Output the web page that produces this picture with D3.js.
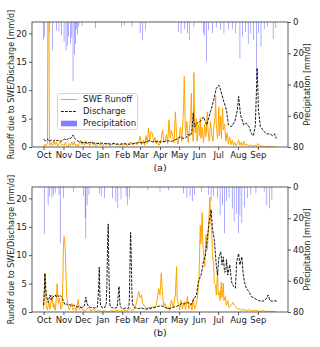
<!DOCTYPE html>
<html>
<head>
<meta charset="utf-8">
<script src="https://cdn.jsdelivr.net/npm/d3@7"></script>
<style>
  html, body { margin: 0; padding: 0; background: #fff; }
  svg text { font-family: "DejaVu Sans", sans-serif; }
</style>
</head>
<body>
<svg id="chart" width="320" height="347"></svg>
<script>
// ---- data (day offsets from 1 October, values in mm/d) ----
const monthLabels = ["Oct","Nov","Dec","Jan","Feb","Mar","Apr","May","Jun","Jul","Aug","Sep"];
const leftTicks = [0, 5, 10, 15, 20];
const rightTicks = [0, 20, 40, 60, 80];
const panelTitles = ["(a)", "(b)"];

const sweRunoffA = [[0,0],[2,0.5],[4,0.2],[6,0.8],[7,40],[8,30],[9,0.5],[10,0.3],[12,0.8],[14,0.2],[16,1.1],[18,0.4],[20,0.9],[22,0.1],[24,0.6],[26,1.0],[28,0.3],[30,0.5],
 [32,0.2],[34,0.8],[36,0.3],[38,0],[40,0.6],[42,0.2],[44,0.9],[46,0.3],[48,1.0],[50,0.2],[52,0.5],[54,0.1],[56,0.7],[58,1.2],[60,0.4],
 [62,0.9],[64,0.3],[66,1.1],[68,0.5],[70,0.8],[72,0.2],[74,0.6],[76,1.0],[78,0.3],[80,0.7],[82,0.2],[84,0.5],[86,0.8],[88,0.3],[90,0.6],
 [92,0.2],[95,0.6],[98,0.3],[101,0.7],[104,0.2],[107,0.5],[110,0.8],[113,0.3],[116,0.6],[119,0.2],[122,0.5],
 [125,0.3],[128,0.7],[131,0.2],[134,0.6],[137,0.9],[140,0.3],[143,0.8],[146,0.4],[149,1.0],
 [151,1.9],[153,0.4],[156,1.2],[158,0.3],[160,2.0],[162,0.6],[164,3.3],[166,1.0],[168,2.7],[170,2.5],[172,0.8],[174,1.7],[176,0.5],[178,1.2],[180,0.3],
 [182,0.5],[184,1.5],[186,3.0],[188,0.8],[190,1.0],[192,2.2],[194,0.6],[196,4.8],[198,1.5],[200,3.0],[202,1.8],[204,0.7],[206,6.2],[208,2.0],[210,0.5],
 [212,1.5],[214,3.5],[216,1.0],[218,5.0],[219,8.0],[220,12.4],[221,6.0],[222,2.0],[224,4.5],[226,0.8],[228,3.0],[230,5.5],[231,9.5],[232,4.0],[234,1.0],[235,13.1],[236,6.0],[237,2.5],[239,5.0],[240,1.0],[242,4.0],
 [244,2.0],[245,5.2],[246,1.5],[248,3.5],[250,0.8],[252,4.0],[254,1.8],[256,6.2],[257,3.0],[259,1.0],[261,4.5],[263,2.0],[265,1.0],[266,3.5],[268,5.0],[269,8.9],[270,4.0],[272,1.5],
 [273,3.0],[274,7.0],[275,2.0],[277,5.5],[278,1.5],[280,6.8],[281,3.0],[283,4.0],[285,1.0],[287,2.5],[289,0.5],[291,1.8],[293,0.4],[295,1.2],[297,0.3],[299,0.8],[301,0.2],[303,0.6],
 [305,1.2],[307,0.3],[309,0.8],[311,0.2],[313,1.0],[315,0.3],[318,0.5],[321,0.1],[324,0.4],[327,0.1],[330,0.3],[333,0.1],
 [335,0.6],[338,0.1],[341,0.2],[345,0],[350,0.1],[355,0],[364,0]];

const dischargeA = [[0,1.3],[3,1.1],[6,1.4],[9,1.0],[12,1.2],[15,1.0],[18,1.3],[21,1.1],[24,1.2],[27,1.0],[30,1.2],
 [33,1.4],[36,1.2],[39,1.6],[42,1.5],[45,1.8],[46,2.1],[48,1.6],[51,1.3],[54,1.0],[57,0.9],[60,0.8],
 [64,0.8],[68,0.7],[72,0.8],[76,0.7],[80,0.7],[85,0.6],[90,0.7],[95,0.6],[100,0.6],[105,0.5],[110,0.6],[115,0.5],[120,0.5],[125,0.6],[130,0.5],[135,0.5],[140,0.6],[145,0.7],[150,0.8],[155,0.7],[160,0.9],[165,1.1],[170,0.9],[175,1.0],[180,0.9],
 [185,0.9],[190,1.0],[195,1.1],[200,1.0],[205,1.2],[210,1.5],[214,1.8],[218,1.5],[222,1.6],[226,2.2],[230,2.0],[232,3.0],[234,6.0],[236,3.5],[240,4.2],[245,4.5],[250,5.3],[255,3.9],[261,6.2],[266,8.3],[270,10.3],[274,10.9],[277,10.0],[281,8.3],[286,6.5],[289,3.9],[294,3.6],[299,4.5],[303,6.5],[305,8.9],[308,5.6],[313,3.9],[317,4.2],[322,3.4],[325,2.3],[328,2.0],[331,3.6],[334,13.9],[336,6.5],[339,3.6],[344,2.8],[349,2.3],[354,2.3],[358,2.0],[361,2.3],[364,1.5]];

const precipA = [[0,11.5],[1,9.4],[9,7],[14,18],[20,5.5],[24,6],[28,8.3],[32,12.6],[35,18],[37,15],[39,9.4],[42,13.7],[44,10],[46,37.8],[48,21],[50,14],[51,5],[53,8],[55,3],[60,2.5],[81,4],[122,3],[126,2],[138,3],[151,7],[155,11.5],[159,5],
 [211,6.2],[215,7.2],[220,4.5],[225,7.2],[228,11.5],[235,3.4],[250,7.2],[252,9],[255,25.4],[258,5.1],[264,7.2],[270,3.4],[277,5],[282,7.2],[289,5],[295,4.5],[300,7.2],[307,23.2],[311,9.4],[316,6.2],[320,13.9],[324,7.2],[328,11.5],[333,37],[336,7],[340,15.8],[345,4.5],[350,3],[359,11],[363,4]];

const sweRunoffB = [[0,0.5],[2,6.8],[4,1.2],[6,0.4],[8,1.8],[10,0.5],[13,3.0],[15,0.8],[16,1.5],[18,0.3],[20,2.5],[21,5.0],[23,1.5],[25,2.4],[27,0.5],[29,1.2],[30,5.0],[31,11.8],[32,13.3],[33,12.5],[34,10.3],[36,3.0],[38,1.2],[40,0.4],[42,0.8],[44,1.5],[46,0.3],[49,0.8],[51,0.2],[54,2.2],[56,0.4],[58,0.9],[60,0.6],[63,0.2],
 [66,0.3],[70,0.8],[74,0.2],[78,0.5],[82,0.1],[86,0.3],[90,0.1],[95,0.2],[100,0],[105,0.2],[110,0.1],[115,0.3],[120,0.1],[125,0.4],[130,0.2],[135,0.6],[138,0.3],
 [142,0.5],[145,1.5],[147,2.8],[149,3.6],[151,2.5],[153,3.0],[155,1.5],[158,1.0],[161,0.5],[164,0.9],[167,0.4],[170,1.0],[173,0.6],[176,1.2],[178,2.4],[180,4.1],[182,3.0],[184,6.9],
 [186,3.0],[188,1.0],[190,1.5],[193,0.5],[195,0.9],[197,0.3],[200,2.1],[203,0.7],[206,3.0],[208,8.0],[209,2.0],[211,1.5],[213,0.4],[215,2.1],[217,0.5],[220,1.8],[222,0.4],[225,2.7],[227,0.5],[230,1.5],[232,0.3],[234,2.4],[236,0.5],[239,1.5],[241,3.0],
 [243,6.0],[245,15.3],[246,12],[248,17.5],[249,12],[250,10.6],[252,8],[254,13.6],[256,11],[258,15],[260,20.2],[261,17],[263,13.6],[264,10],[266,8.3],[267,5],[269,4.8],[270,3],[272,7.1],[273,3],[275,3.6],[276,2],[278,5.3],[279,2.5],[281,5.1],[282,2],[284,2.7],[286,1.2],[288,2.0],[290,0.8],[292,1.0],[294,1.3],[296,1.7],[298,1.2],[300,1.0],[303,0.5],[305,0.6],[309,0.3],[313,0.5],[317,0.2],[321,0.4],[326,0.2],[332,0.3],[337,0.1],[343,0.2],[350,0.1],[357,0.1],[364,0]];

const dischargeB = [[0,1.2],[1,3.5],[2,6.8],[4,3.0],[6,2.2],[7,1.7],[9,2.6],[10,3.0],[12,2.1],[14,2.5],[16,2.8],[18,3.0],[20,2.6],[22,2.9],[24,2.7],[26,2.9],[28,2.6],[30,2.2],[32,1.6],[34,1.2],[36,1.4],[38,1.2],[41,1.3],[44,1.1],[47,1.2],[50,1.0],[53,0.9],[56,0.9],[59,0.8],[62,0.9],[64,1.2],[66,2.6],[68,1.5],[70,1.0],[73,0.8],[76,0.8],[80,0.7],[84,0.8],
 [86,4.0],[87,7.9],[88,3.0],[89,1.2],[91,0.8],[93,0.7],[96,0.8],[98,1.5],[99,5.0],[100,12.0],[101,15.5],[102,8.0],[103,2.5],[104,1.0],[106,0.8],[109,0.7],[112,0.7],[115,0.8],[116,2.0],[117,3.5],[118,4.5],[119,2.0],[120,0.9],[122,0.7],[125,0.6],[128,0.7],[131,0.6],[133,0.7],[134,2.0],[135,8.0],[136,14.0],[137,10.0],[138,3.5],[139,1.5],[141,0.9],[144,0.7],
 [148,0.6],[152,0.7],[156,0.6],[160,0.5],[164,0.6],[168,0.7],[172,0.8],[176,0.9],[180,1.0],[184,1.1],[188,0.9],[192,0.7],[196,0.6],[200,0.7],[204,0.9],[208,1.0],[212,1.2],[216,1.5],[220,1.4],[224,1.7],[228,1.5],[231,1.3],
 [234,2.1],[239,3.0],[242,5.3],[247,6.8],[250,8.9],[253,10.0],[256,13.0],[259,15.9],[262,18.0],[264,14.7],[267,12.7],[270,8.3],[272,6.5],[274,9.5],[277,10.6],[279,8.3],[281,9.7],[283,7.0],[285,7.1],[286,9.2],[288,6.5],[291,8.3],[294,5.3],[297,4.5],[300,4.2],[302,8.9],[305,10.3],[307,8.3],[310,9.7],[312,6.8],[314,5.3],[317,4.2],[321,3.6],[325,2.7],[330,2.4],[336,2.0],[343,1.9],[349,2.4],[351,3.0],[354,2.0],[358,1.9],[363,2.0],[364,1.7]];

const precipB = [[1,30],[7,11.5],[9,6],[13,7],[15,5],[18,4],[24,5],[26,36],[31,7],[47,3],[62,6],[65,20],[66,33],[68,11.5],[71,5],
 [87,4],[90,6],[95,7],[108,7],[113,9.3],[116,13.7],[121,8],[129,6],[131,11.5],[134,7],[163,2],
 [182,3],[195,2],[219,4],[224,7],[229,6],[233,9],[236,5],[247,3],[258,5],[262,9],[266,6],[272,7],[276,18],[280,11.5],[283,29.6],[286,9],[290,7],[295,13.7],[298,22],[302,17],[305,29.6],[307,18],[310,23],[314,13],[319,7],[324,5],[332,4],[345,3],[349,11.5],[353,13.7],[357,8]];

// ---- chart ----
const svg = d3.select("#chart");
svg.append("rect").attr("width", 320).attr("height", 347).attr("fill", "#fff");

const start = new Date(2014, 9, 1);
const dayToDate = d => d3.timeDay.offset(start, d);
const spanDays = 364, pad = spanDays * 0.05;
const x = d3.scaleTime()
  .domain([new Date(start.getTime() - pad * 864e5), new Date(start.getTime() + (spanDays + pad) * 864e5)])
  .range([32, 288]);
const monthTicks = monthLabels.map((m, i) => d3.timeMonth.offset(start, i));

const panels = [
  {top: 22, bottom: 147, swe: sweRunoffA, q: dischargeA, p: precipA, title: panelTitles[0], legend: true},
  {top: 187, bottom: 312, swe: sweRunoffB, q: dischargeB, p: precipB, title: panelTitles[1], legend: false}
];

const FS = 8.5;
panels.forEach((P, idx) => {
  const y = d3.scaleLinear().domain([0, 22]).range([P.bottom, P.top]);
  const yp = d3.scaleLinear().domain([0, 80]).range([P.top, P.bottom]);
  const g = svg.append("g");
  const clipId = "clip" + idx;
  svg.append("clipPath").attr("id", clipId).append("rect")
    .attr("x", 32).attr("y", P.top).attr("width", 256).attr("height", P.bottom - P.top);

  const plot = g.append("g").attr("clip-path", `url(#${clipId})`);

  // precipitation bars hanging from top
  const bw = x(dayToDate(1)) - x(dayToDate(0));
  plot.selectAll("rect.p").data(P.p).enter().append("rect")
    .attr("x", d => x(dayToDate(d[0])) - bw / 2)
    .attr("y", yp(0))
    .attr("width", bw)
    .attr("height", d => yp(d[1]) - yp(0))
    .attr("fill", "blue").attr("fill-opacity", 0.5);

  const line = d3.line().x(d => x(dayToDate(d[0]))).y(d => y(d[1]));
  plot.append("path").datum(P.swe)
    .attr("d", line).attr("fill", "none")
    .attr("stroke", "orange").attr("stroke-width", 1).attr("stroke-linejoin", "round");
  const qSorted = P.q.slice().sort((a, b) => a[0] - b[0]);
  plot.append("path").datum(qSorted)
    .attr("d", line).attr("fill", "none")
    .attr("stroke", "#000").attr("stroke-width", 0.9).attr("stroke-dasharray", "2.8,1.2");

  // axes
  const axL = g.append("g").attr("transform", "translate(32,0)")
    .call(d3.axisLeft(y).tickValues(leftTicks).tickSize(3).tickPadding(2));
  const axR = g.append("g").attr("transform", "translate(288,0)")
    .call(d3.axisRight(yp).tickValues(rightTicks).tickSize(3).tickPadding(2));
  const axB = g.append("g").attr("transform", `translate(0,${P.bottom})`)
    .call(d3.axisBottom(x).tickValues(monthTicks).tickFormat((d, i) => monthLabels[i]).tickSize(3).tickPadding(2));
  [axL, axR, axB].forEach(a => {
    a.select(".domain").remove();
    a.selectAll("text").attr("font-size", FS).attr("fill", "#222").style("font-family", "DejaVu Sans");
    a.selectAll("line").attr("stroke", "#333").attr("stroke-width", 0.8);
  });
  g.append("rect").attr("x", 32).attr("y", P.top).attr("width", 256).attr("height", P.bottom - P.top)
    .attr("fill", "none").attr("stroke", "#333").attr("stroke-width", 0.8);

  // labels
  const cy = (P.top + P.bottom) / 2;
  g.append("text").attr("transform", `translate(11.5,${cy}) rotate(-90)`)
    .attr("text-anchor", "middle").attr("dominant-baseline", "middle")
    .attr("font-size", 8).attr("fill", "#222").text("Runoff due to SWE/Discharge [mm/d]");
  g.append("text").attr("transform", `translate(307,${cy}) rotate(-90)`)
    .attr("text-anchor", "middle").attr("dominant-baseline", "middle")
    .attr("font-size", 8).attr("fill", "#222").text("Precipitation [mm/d]");
  g.append("text").attr("x", 160).attr("y", P.bottom + 21.5)
    .attr("text-anchor", "middle").attr("dominant-baseline", "middle")
    .attr("font-size", 9.5).attr("fill", "#222").text(P.title);

  if (P.legend) {
    const L = g.append("g");
    L.append("rect").attr("x", 57.5).attr("y", 93.5).attr("width", 80).attr("height", 36).attr("rx", 2)
      .attr("fill", "#fff").attr("fill-opacity", 0.8).attr("stroke", "#ccc").attr("stroke-width", 0.8);
    const rows = [
      {label: "SWE Runoff", y: 99.5, kind: "swe"},
      {label: "Discharge", y: 111.5, kind: "q"},
      {label: "Precipitation", y: 123.5, kind: "p"}
    ];
    rows.forEach(r => {
      if (r.kind === "swe") L.append("line").attr("x1", 61).attr("x2", 77).attr("y1", r.y).attr("y2", r.y).attr("stroke", "orange").attr("stroke-width", 1);
      if (r.kind === "q") L.append("line").attr("x1", 61).attr("x2", 77).attr("y1", r.y).attr("y2", r.y).attr("stroke", "#000").attr("stroke-width", 0.9).attr("stroke-dasharray", "2.8,1.2");
      if (r.kind === "p") L.append("rect").attr("x", 61).attr("y", r.y - 2.8).attr("width", 16).attr("height", 5.6).attr("fill", "blue").attr("fill-opacity", 0.5);
      L.append("text").attr("x", 83).attr("y", r.y).attr("dominant-baseline", "middle")
        .attr("font-size", FS).attr("fill", "#222").text(r.label);
    });
  }
});
</script>
</body>
</html>
